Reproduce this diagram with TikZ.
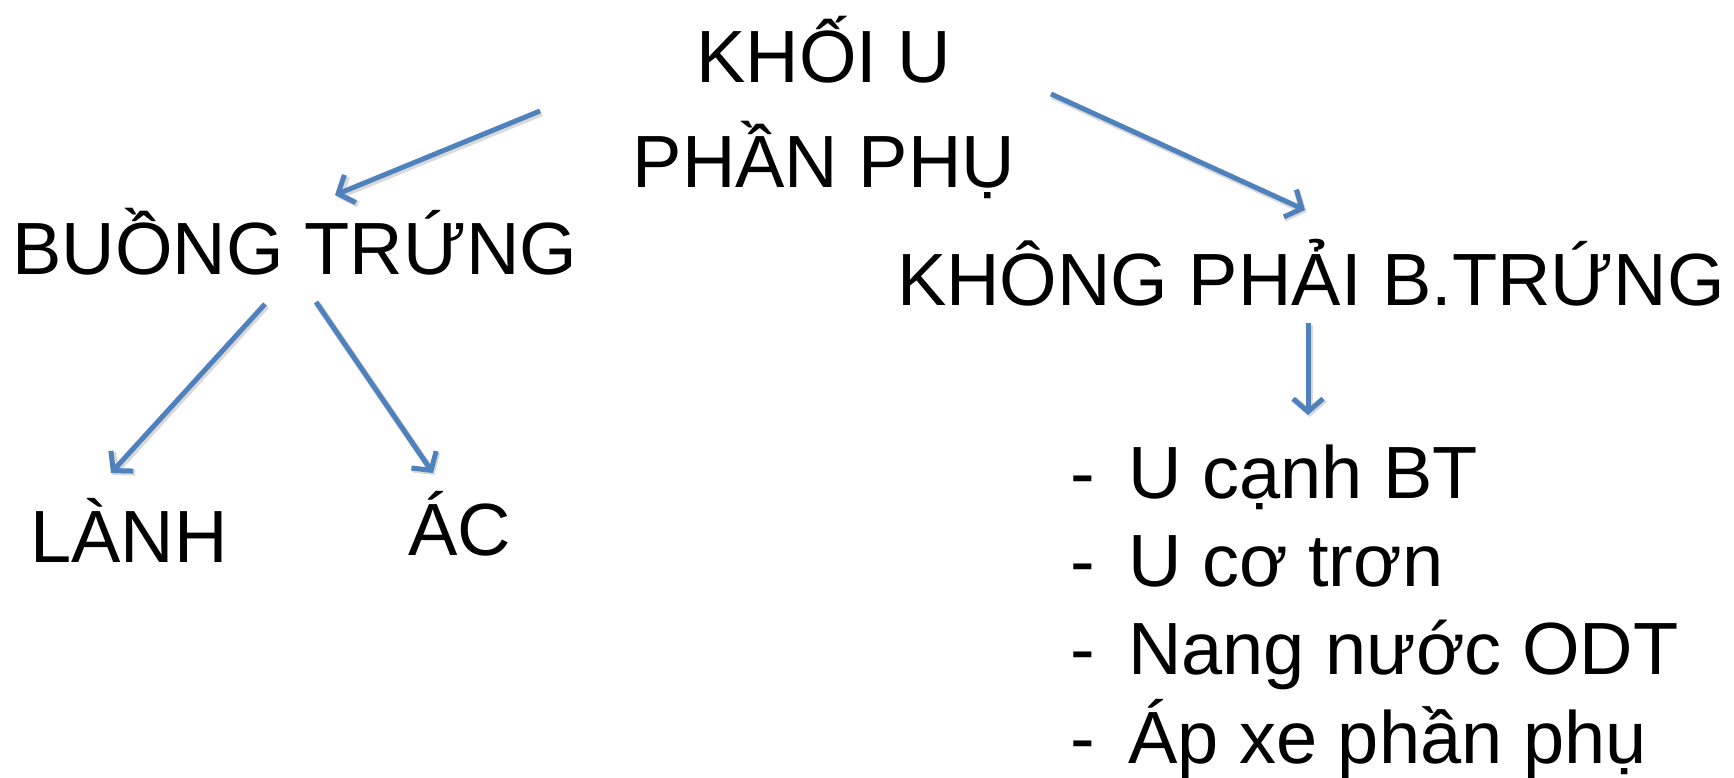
\documentclass[tikz,border=0pt]{standalone}
\usepackage{fontspec}
\setmainfont{Liberation Sans}
\usetikzlibrary{arrows.meta}
\definecolor{arrowblue}{HTML}{4F81BD}
\tikzset{
  txt/.style={font=\fontsize{74}{105}\selectfont, inner sep=0pt, anchor=base},
  listtxt/.style={font=\fontsize{74}{88.3}\selectfont, inner sep=0pt, anchor=base west, align=left},
  link/.style={draw=arrowblue, line width=5pt,
    -{Straight Barb[length=13pt,width=30pt]},
    preaction={draw=black!15, line width=6.5pt, -{Straight Barb[length=13pt,width=30pt]},
      transform canvas={shift={(1.5pt,-2pt)}}}}
}
\newcommand{\dashitem}[1]{\makebox[58pt][l]{-}#1}
\begin{document}
\begin{tikzpicture}[x=1pt,y=-1pt]
  \useasboundingbox (0,0) rectangle (1734,778);

  % tree labels (multi-line nodes sit on the baseline of their last line)
  \node[txt, align=center] (root) at (824,188) {KHỐI U\\PHẦN PHỤ};
  \node[txt] (ovary) at (295,274) {BUỒNG TRỨNG};
  \node[txt] (other) at (1311,305) {KHÔNG PHẢI B.TRỨNG};
  \node[txt] (benign) at (129,562) {LÀNH};
  \node[txt] (malign) at (460,555) {ÁC};
  \node[listtxt] (list) at (1070,763) {\dashitem{U cạnh BT}\\\dashitem{U cơ trơn}\\\dashitem{Nang nước ODT}\\\dashitem{Áp xe phần phụ}};

  % arrow end points
  \coordinate (r1) at (540,111);  \coordinate (o1) at (335,195);
  \coordinate (r2) at (1051,94);  \coordinate (t1) at (1305,210);
  \coordinate (t2) at (1308,323); \coordinate (l1) at (1308,415);
  \coordinate (o2) at (265,304);  \coordinate (b1) at (111,473);
  \coordinate (o3) at (316,302);  \coordinate (m1) at (433,473);

  \draw[link] (r1) -- (o1);
  \draw[link] (r2) -- (t1);
  \draw[link] (t2) -- (l1);
  \draw[link] (o2) -- (b1);
  \draw[link] (o3) -- (m1);
\end{tikzpicture}
\end{document}
